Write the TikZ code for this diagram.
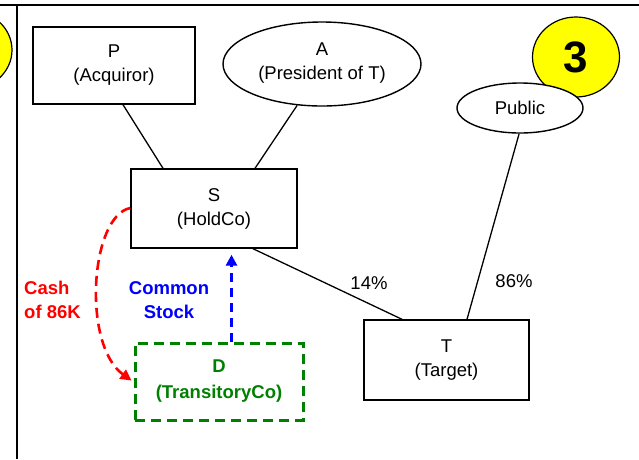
\documentclass[tikz,border=0pt]{standalone}
\usepackage{fontspec}
\setmainfont{Liberation Sans}
\usetikzlibrary{arrows.meta,calc,shapes.geometric}
\definecolor{dgreen}{RGB}{0,128,0}
\definecolor{yel}{RGB}{255,255,0}
\begin{document}
\begin{tikzpicture}[x=1pt,y=-1pt,
  lbl/.style={font=\fontsize{18.5}{24}\selectfont, align=center, inner sep=0pt},
  boxn/.style={lbl, draw, line width=1.4pt},
  conn/.style={line width=1.3pt},
  blbl/.style={font=\fontsize{18.5}{24}\selectfont\bfseries, inner sep=0pt}
]
\useasboundingbox (0,0) rectangle (639,459);
\begin{scope}
\clip (0,0) rectangle (639,459);
\node[draw, fill=yel, ellipse, line width=1.2pt, minimum width=88pt, minimum height=80pt, inner sep=0pt] (Y0) at (-32,50) {};
\end{scope}
\draw[line width=2pt] (0,5) -- (639,5);
\draw[line width=1.6pt] (17,5) -- (17,459);

\node[draw, fill=yel, ellipse, line width=1.2pt, minimum width=87pt, minimum height=80pt, inner sep=0pt,
  font=\fontsize{44}{44}\selectfont\bfseries] (Y3) at (576,57) {3};

\node[boxn, minimum width=162pt, minimum height=77pt] (P) at (114,65.5) {P\\(Acquiror)};
\node[draw, ellipse, line width=1.4pt, minimum width=198pt, minimum height=84pt, inner sep=0pt] (A) at (322,64) {};
\node[lbl] at (322,63) {A\\(President of T)};
\node[draw, fill=white, ellipse, line width=1.4pt, minimum width=126pt, minimum height=50pt, inner sep=0pt] (Pub) at (520,108) {};
\node[lbl] at (520,108) {Public};
\node[boxn, minimum width=166pt, minimum height=79pt] (S) at (214,208.5) {S\\(HoldCo)};
\node[boxn, minimum width=165pt, minimum height=80pt] (T) at (446.5,360) {T\\(Target)};
\node[lbl, draw=dgreen, text=dgreen, font=\fontsize{18.5}{26}\selectfont\bfseries, line width=3pt,
  dash pattern=on 10pt off 6pt, minimum width=168pt, minimum height=77pt] (D) at (219,381.5) {D\\(TransitoryCo)};

\draw[conn] ([xshift=9pt]P.south) -- ([xshift=-51pt]S.north);
\draw[conn] (A.239) -- ([xshift=41pt]S.north);
\draw[conn] ([xshift=39pt]S.south) -- ([xshift=-44.5pt]T.north);
\draw[conn] (Pub.268) -- ([xshift=20.5pt]T.north);

\node[lbl] (p14) at (369,283) {14\%};
\node[lbl] (p86) at (514,281) {86\%};

\draw[blue, line width=3pt, dash pattern=on 9pt off 6pt, -{Triangle[length=11pt,width=11pt]}]
  ([xshift=12.5pt]D.north) -- ([xshift=17.5pt,yshift=-6pt]S.south);
\draw[red, line width=2.6pt, dash pattern=on 10pt off 6pt, -{Triangle[length=11pt,width=11pt]}]
  (S.west |- 0,208) .. controls (90,216) and (82,345) .. ([xshift=-2pt,yshift=1pt]D.west);

\node[blbl, text=red, align=left, anchor=west] (cash) at (24,300) {Cash\\of 86K};
\node[blbl, text=blue, align=center] (cs) at (169,300) {Common\\Stock};
\end{tikzpicture}
\end{document}
